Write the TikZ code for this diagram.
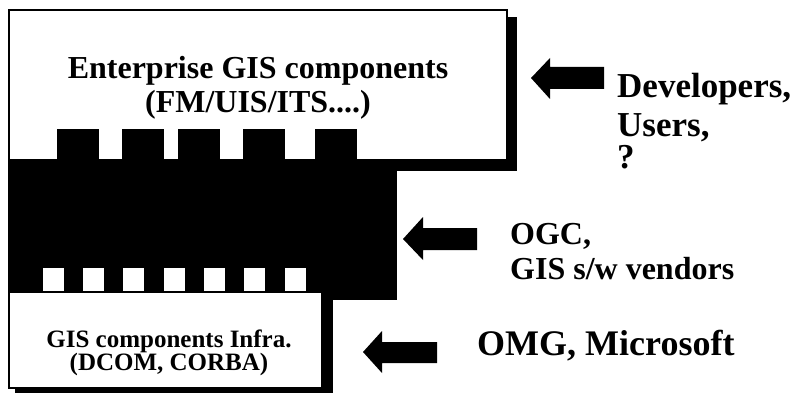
\documentclass[tikz,border=0pt]{standalone}
\usepackage{fontspec}
\setmainfont{Liberation Serif}
\begin{document}
\begin{tikzpicture}[x=1pt,y=-1pt,
  shadowfill/.style={fill=black},
  boxdraw/.style={fill=white,draw=black,line width=2pt},
  blockfill/.style={fill=black},
  holefill/.style={fill=white},
  bigtxt/.style={font=\bfseries\fontsize{32}{38}\selectfont,inner sep=0pt},
  sidetxt/.style={font=\bfseries\fontsize{35}{40}\selectfont,inner sep=0pt,anchor=base west},
  midtxt/.style={font=\bfseries\fontsize{32}{38}\selectfont,inner sep=0pt,anchor=base west},
  smalltxt/.style={font=\bfseries\fontsize{25}{30}\selectfont,inner sep=0pt}]
\useasboundingbox[fill=white] (0,0) rectangle (803,393);
% top box with shadow
\fill[shadowfill] (17,17) rectangle (517,171);
\draw[boxdraw] (9,10) rectangle (507,160);
% black layer with teeth
\fill[blockfill] (8,160) rectangle (397,300);
\foreach \xa in {57,122,178,243,315}
  \fill[blockfill] (\xa,129) rectangle ++(42,32);
% bottom box with shadow
\fill[shadowfill] (15,300) rectangle (333,393);
\draw[boxdraw] (9,292) rectangle (322,388);
\foreach \xa in {43,83,123,164,204,244,285}
  \fill[holefill] (\xa,268) rectangle ++(21,23);
% texts in boxes
\node[bigtxt,anchor=base] (t1) at (258,79) {Enterprise GIS components};
\node[bigtxt,anchor=base] (t2) at (258,113) {(FM/UIS/ITS....)};
\node[smalltxt,anchor=base] (b1) at (169,347) {GIS components Infra.};
\node[smalltxt,anchor=base] (b2) at (169,370) {(DCOM, CORBA)};
% block arrows
\fill[blockfill] (531,78) -- (550,58) -- (550,67) -- (604,67) -- (604,89) -- (550,89) -- (550,99) -- cycle;
\fill[blockfill] (403,239) -- (423,217) -- (423,228) -- (477,228) -- (477,250) -- (423,250) -- (423,260) -- cycle;
\fill[blockfill] (363,352) -- (382,331) -- (382,342) -- (437,342) -- (437,363) -- (382,363) -- (382,373) -- cycle;
% side labels
\node[sidetxt] (d1) at (617,98) {Developers,};
\node[sidetxt] (d2) at (617,136) {Users,};
\node[sidetxt] (d3) at (617,168) {?};
\node[midtxt] (o1) at (510,244) {OGC,};
\node[midtxt] (o2) at (510,279) {GIS s/w vendors};
\node[sidetxt,font=\bfseries\fontsize{36}{40}\selectfont] (m1) at (477,355) {OMG, Microsoft};
\end{tikzpicture}
\end{document}
